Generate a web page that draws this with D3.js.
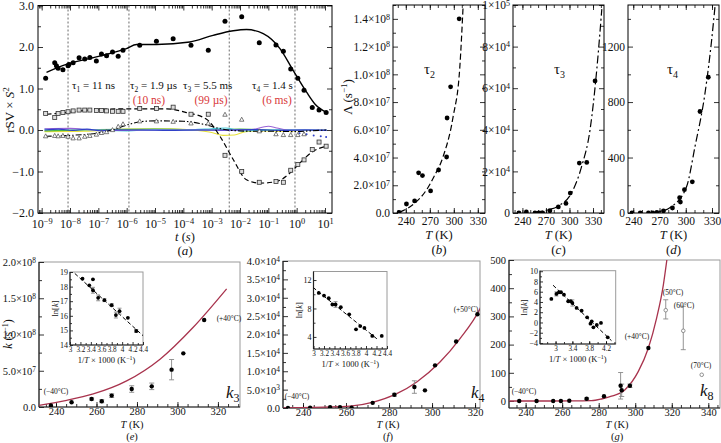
<!DOCTYPE html>
<html><head><meta charset="utf-8">
<script src="https://cdn.jsdelivr.net/npm/d3@7"></script>
<style>body{margin:0;background:#fff}svg{display:block}</style>
</head><body><svg id="c" width="721" height="443"></svg>
<script>
// ---------------- DATA ----------------
// panel (a): log10(t) positions and rSV×S² values
const aCircLog = [-8.86,-8.54,-8.48,-8.42,-8.25,-8.07,-8.04,-7.89,-7.68,-7.48,-7.30,-7.07,-6.89,-6.71,-6.50,-6.30,-6.13,-5.54,-4.95,-4.36,-3.73,-3.12,-2.53,-1.94,-1.32,-0.73,-0.47,-0.21,0.04,0.26,0.55,0.79,1.04];
const aCircVal = [1.25,1.62,1.55,1.49,1.45,1.55,1.58,1.62,1.74,1.71,1.75,1.66,1.83,1.79,1.88,1.78,1.92,2.04,2.14,2.20,2.04,1.92,2.62,2.73,2.10,2.05,1.90,1.47,1.25,0.96,0.54,0.48,0.42];
const aFitLog = [-8.83,-8.13,-6.95,-6.01,-5.65,-4.95,-3.77,-2.95,-2.24,-1.77,-1.18,-0.59,-0.12,0.35,0.65,1.06];
const aFitVal = [1.39,1.58,1.78,1.96,2.06,2.06,2.12,2.28,2.39,2.42,2.32,1.96,1.43,0.91,0.62,0.42];
const aSqLog = [-8.86,-8.54,-8.42,-8.25,-8.07,-7.89,-7.68,-7.48,-7.30,-7.07,-6.89,-6.71,-6.50,-6.30,-6.13,-5.54,-4.95,-4.36,-3.73,-3.12,-2.53,-1.94,-1.32,-0.73,-0.47,-0.21,0.04,0.26,0.55,0.79,1.04];
const aSqVal = [0.40,0.30,0.40,0.42,0.44,0.46,0.48,0.48,0.48,0.47,0.47,0.46,0.45,0.45,0.45,0.52,0.52,0.55,0.38,0.38,-0.61,-1.00,-1.26,-1.24,-1.26,-0.97,-0.83,-0.72,-0.47,-0.29,-0.39];
const aDashLog = [-8.83,-8.13,-6.95,-5.77,-4.59,-3.89,-3.18,-2.71,-2.24,-1.77,-1.30,-0.71,-0.24,0.12,0.59,1.06];
const aDashVal = [0.38,0.42,0.50,0.51,0.51,0.42,0.26,-0.15,-0.71,-1.20,-1.28,-1.24,-1.04,-0.79,-0.51,-0.39];
const aTriLog = [-8.86,-8.54,-8.42,-8.25,-8.07,-7.89,-7.68,-7.48,-7.30,-7.07,-6.89,-6.71,-6.50,-6.30,-6.13,-5.54,-4.95,-4.36,-3.73,-3.12,-2.53,-1.94,-1.32,-0.73,-0.47,-0.21,0.04,0.26];
const aTriVal = [-0.15,-0.14,-0.15,-0.14,-0.16,-0.20,-0.20,-0.16,-0.14,-0.11,-0.07,-0.05,0.00,0.08,0.14,0.21,0.21,0.20,0.16,0.16,0.37,0.25,-0.03,-0.10,-0.12,-0.12,-0.12,-0.10];
const aDDLog = [-8.86,-8.0,-7.0,-6.5,-6.0,-5.5,-5.0,-4.0,-3.3,-2.8,-2.3,-1.5,-0.8,0.0,0.5,1.06];
const aDDVal = [-0.15,-0.13,-0.07,0.00,0.12,0.20,0.22,0.21,0.14,0.05,-0.01,-0.03,-0.03,-0.04,-0.02,0.00];
const aYellowLog = [-8.9,-7.5,-6.0,-4.5,-3.5,-3.0,-2.6,-2.2,-1.8,-1.2,-0.5,0.3,1.06];
const aYellowVal = [-0.04,-0.03,0.02,0.03,-0.01,-0.06,-0.13,-0.12,-0.04,-0.02,-0.03,-0.01,-0.01];
const aCyanLog = [-8.9,-8.0,-7.0,-6.0,-5.0,-4.0,-3.0,-2.5,-2.0,-1.0,0.0,1.06];
const aCyanVal = [0.02,0.03,0.00,-0.02,0.01,0.00,0.03,0.05,-0.02,0.00,0.01,0.00];
const aPurpleLog = [-8.9,-8.0,-7.2,-6.5,-5.0,-3.5,-2.5,-1.6,-1.0,-0.7,-0.3,0.3,1.06];
const aPurpleVal = [0.03,0.04,0.00,-0.01,0.00,0.00,-0.01,0.01,0.09,0.05,0.00,0.00,0.00];
const aBlueLog = [-8.9,-8.4,-7.9,-7.4,-6.9,-6.4,-5.5,-4.5,-3.5,-2.5,-1.5,-0.5,0.3,1.06];
const aBlueVal = [0.00,0.02,-0.01,0.02,-0.02,0.00,0.00,-0.01,0.00,0.00,0.01,-0.01,0.00,-0.01];
const aGreenLog = [-8.9,-7.0,-5.0,-3.0,-2.0,-1.0,0.0,1.06];
const aGreenVal = [-0.02,0.01,0.02,0.00,0.02,0.00,-0.01,0.00];
const aCrossLog = [0.10,0.35,0.60,0.85,1.04];
const aCrossVal = [-0.08,-0.10,-0.13,-0.15,-0.17];
const aVLog = [-8.07,-5.92,-2.38,-0.06];
const aXTicks = [-9,-8,-7,-6,-5,-4,-3,-2,-1,0,1];
const aYTicks = [-2,-1,0,1,2,3];
const aYLabels = ["\u22122.0","\u22121.0","0.0","1.0","2.0","3.0"];
const aTauText = [["\u03c4","1"," = 11 ns"],["\u03c4","2"," = 1.9 \u00b5s"],["\u03c4","3"," = 5.5 ms"],["\u03c4","4"," = 1.4 s"]];
const aRedText = ["(10 ns)","(99 \u00b5s)","(6 ms)"];

// panels (b)(c)(d): T (K) vs Λ (s⁻¹)
const bT = [231.6,240.8,251,256,260.8,271,281,291,291.6,296,306.7];
const bL = [0.5e6,6.5e6,8.7e6,29e6,27e6,15.9e6,31e6,40.4e6,68.5e6,91e6,140e6];
const bFitT = [233,236.7,251,265.8,275,286.6,299,307.5,311.7];
const bFitL = [0.8e6,1.7e6,7e6,16.6e6,26e6,40.6e6,69e6,105e6,150e6];
const cT = [235.5,245,256,261,265.8,275,285.8,295.5,301,312.5,322,332.6];
const cL = [0,500,0,0,0,1100,2900,4600,9600,24000,24300,63500];
const cFitT = [256,270,285.8,302.8,315.6,326.2,334.8,341.2];
const cFitL = [300,1300,3400,9800,22500,40000,69000,98000];
const dT = [238.5,248,257.4,262.4,267,274.5,284.8,293,293.9,298.5,307.5,316.3,325.8];
const dL = [0,0,0,0,5,16,36,110,79,168,225,732,979];
const dFitT = [257,270,284,301,310.6,322,329.6,333.4];
const dFitL = [0,10,47,191,480,864,1248,1487];
const bcdXTicks = [240,270,300,330];
const bYTicks = [0,2e7,4e7,6e7,8e7,1e8,1.2e8,1.4e8];
const bYLabels = ["0.0","2.0\u00d710^7","4.0\u00d710^7","6.0\u00d710^7","8.0\u00d710^7","1.0\u00d710^8","1.2\u00d710^8","1.4\u00d710^8"];
const cYTicks = [0,2e4,4e4,6e4,8e4,1e5];
const cYLabels = ["0","2\u00d710^4","4\u00d710^4","6\u00d710^4","8\u00d710^4","1\u00d710^5"];
const dYTicks = [0,400,800,1200];
const dYLabels = ["0","400","800","1200"];

// panel (e): k3
const eT = [237.5,247.7,257.6,262.6,267.5,277.4,287.3,297.1,302.9,313.2];
const eK = [2e6,6.5e6,11e6,7.9e6,15.7e6,24.8e6,28.5e6,51.5e6,74e6,120e6];
const eErr = [0,0,1.5e6,2e6,2.5e6,4.5e6,4.5e6,14e6,0,0];
const eFitT = [231.6,245.3,258.4,274.9,291.4,307.8,324.3];
const eFitK = [2.3e6,9.2e6,18e6,36e6,66e6,110e6,163e6];
const eInvT = [3.24,3.37,3.44,3.44,3.54,3.66,3.80,3.88,3.95,4.11,4.27];
const eLnK = [18.54,18.09,18.5,17.75,17.23,17.07,16.73,16.05,16.32,15.86,14.96];
const eLnErr = [0,0,0,0.2,0.2,0.1,0.1,0.2,0.2,0,0.1];
const eLnFitX = [3.0,4.4];
const eLnFitY = [19.2,14.64];
const eYTicks = [0,5e7,1e8,1.5e8,2e8];
const eYLabels = ["0.0","5.0\u00d710^7","1.0\u00d710^8","1.5\u00d710^8","2.0\u00d710^8"];

// panel (f): k4
const fT = [233,243.3,252.6,257.2,262.6,272.4,282.5,291.8,296.7,301.4,311.2,321.1];
const fK = [0,100,200,200,100,1400,3600,5700,4800,11600,18100,25500];
const fErr = [0,0,0,0,0,0,400,1700,0,0,0,0];
const fFitT = [231,238.6,250,261.9,272.7,283.6,292.9,303.7,313,322.3,330];
const fFitK = [50,100,250,500,1600,3900,7100,12500,18900,27000,38000];
const fInvT = [3.10,3.20,3.29,3.36,3.42,3.52,3.68,3.81,3.89,3.97,4.12,4.30];
const fLnK = [10.18,9.81,9.44,8.56,8.56,8.18,7.17,5.07,5.53,5.26,4.14,4.14];
const fLnErr = [0,0,0,0,0.4,0,0,0,0,0,0,0];
const fLnFitX = [2.99,4.24];
const fLnFitY = [10.97,3.54];
const fYTicks = [0,5e3,1e4,1.5e4,2e4,2.5e4,3e4,3.5e4,4e4];
const fYLabels = ["0.0","5.0\u00d710^3","1.0\u00d710^4","1.5\u00d710^4","2.0\u00d710^4","2.5\u00d710^4","3.0\u00d710^4","3.5\u00d710^4","4.0\u00d710^4"];

// panel (g): k8
const gT = [236.5,246,255.1,259.3,263.9,273.4,282.9,292,292.6,297.1,307.2];
const gK = [0,0,0,0,1,8,17,54,38,54,188];
const gErr = [0,0,0,0,0,3,0,47,22,6,0];
const gOpenT = [316.7,326.3,336.4];
const gOpenK = [322,249,93];
const gOpenLo = [291,182,93];
const gOpenHi = [359,336,93];
const gFitT = [231,239.6,265,276,282,287,294.4,301.7,307.2,311.7,315.4,317.2,318.5];
const gFitK = [0,0,0.3,1,8,17,40,105,188,294,412,495,560];
const gInvT = [2.90,3.02,3.08,3.13,3.20,3.30,3.36,3.40,3.50,3.62,3.75,3.83,3.86,3.90,3.98,4.08,4.24];
const gLnK = [4.59,5.57,5.9,5.9,5.43,4.14,4.14,3.8,2.83,2.3,1.0,-0.23,0.23,-0.94,-0.49,-0.09,-2.9];
const gLnErr = [0,0.4,0,0,0,0,0,0.6,0,0,0,0,0,0,0,0,0];
const gLnFitX = [2.94,4.33];
const gLnFitY = [7.27,-3.55];
const gYTicks = [0,100,200,300,400,500];
const gYLabels = ["0","100","200","300","400","500"];
const gOpenText = ["(50\u00b0C)","(60\u00b0C)","(70\u00b0C)"];

// ---------------- DRAWING ----------------
const FONT = "'Liberation Serif','Times New Roman',serif";
const RED = "#a8334d";
const svg = d3.select("#c");
svg.append("rect").attr("width",721).attr("height",443).attr("fill","#fff");

function rich(sel){
  sel.each(function(){
    const t=d3.select(this); const s=t.text();
    if(!s.includes("^")) return;
    const [b,e]=s.split("^"); t.text(null);
    t.append("tspan").text(b);
    t.append("tspan").attr("dy","-0.42em").attr("font-size","0.7em").text(e);
  });
}
function range(a,b,s){const r=[];for(let v=a;v<=b+1e-9;v+=s)r.push(+v.toFixed(6));return r;}

function drawAxes(g,x,y,o){
  const X0=d3.min(x.range()),X1=d3.max(x.range());
  const Yb=d3.max(y.range()),Yt=d3.min(y.range());
  const fs=o.fs||12, tl=o.tl||5, tm=o.tm||3;
  const style=sel=>{sel.attr("font-family",FONT).attr("font-size",fs);sel.select(".domain").remove();sel.selectAll("line").attr("stroke","#000").attr("stroke-width",0.8);sel.selectAll("text").attr("fill","#111");};
  g.append("rect").attr("x",X0).attr("y",Yt).attr("width",X1-X0).attr("height",Yb-Yt)
    .attr("fill","none").attr("stroke",o.frame||"#000").attr("stroke-width",o.fw||1);
  const b=g.append("g").attr("transform",`translate(0,${Yb})`)
    .call(d3.axisBottom(x).tickValues(o.xt).tickSizeInner(-tl).tickSizeOuter(0).tickPadding(o.xpad||4).tickFormat((d,i)=>o.xl?o.xl[i]:d));
  style(b); b.selectAll("text").call(rich);
  if(o.xfs) b.attr("font-size",o.xfs);
  const l=g.append("g").attr("transform",`translate(${X0},0)`)
    .call(d3.axisLeft(y).tickValues(o.yt).tickSizeInner(-tl).tickSizeOuter(0).tickPadding(o.ypad||3).tickFormat((d,i)=>o.yl?o.yl[i]:d));
  style(l); l.selectAll("text").call(rich);
  if(o.xm){const m=g.append("g").attr("transform",`translate(0,${Yb})`).call(d3.axisBottom(x).tickValues(o.xm).tickSizeInner(-tm).tickSizeOuter(0).tickFormat(""));style(m);}
  if(o.ym){const m=g.append("g").attr("transform",`translate(${X0},0)`).call(d3.axisLeft(y).tickValues(o.ym).tickSizeInner(-tm).tickSizeOuter(0).tickFormat(""));style(m);}
  if(o.mirror){
    const t=g.append("g").attr("transform",`translate(0,${Yt})`).call(d3.axisTop(x).tickValues(o.xt).tickSizeInner(-tl).tickSizeOuter(0).tickFormat(""));style(t);
    const r=g.append("g").attr("transform",`translate(${X1},0)`).call(d3.axisRight(y).tickValues(o.yt).tickSizeInner(-tl).tickSizeOuter(0).tickFormat(""));style(r);
    if(o.xm){const m=g.append("g").attr("transform",`translate(0,${Yt})`).call(d3.axisTop(x).tickValues(o.xm).tickSizeInner(-tm).tickSizeOuter(0).tickFormat(""));style(m);}
    if(o.ym){const m=g.append("g").attr("transform",`translate(${X1},0)`).call(d3.axisRight(y).tickValues(o.ym).tickSizeInner(-tm).tickSizeOuter(0).tickFormat(""));style(m);}
  }
  if(o.axisLines){
    g.append("line").attr("x1",X0).attr("x2",X0).attr("y1",Yt).attr("y2",Yb).attr("stroke","#222").attr("stroke-width",1.2);
    g.append("line").attr("x1",X0).attr("x2",X1).attr("y1",Yb).attr("y2",Yb).attr("stroke","#222").attr("stroke-width",1.2);
  }
}
function txt(g,x,y,s,o={}){
  const t=g.append("text").attr("x",x).attr("y",y).attr("font-family",FONT).attr("font-size",o.fs||12)
    .attr("text-anchor",o.anchor||"middle").attr("fill",o.fill||"#111");
  if(o.italic) t.attr("font-style","italic");
  if(o.rot) t.attr("transform",`rotate(${o.rot},${x},${y})`);
  if(s) t.text(s);
  return t;
}
let clipId=0;
function clipFor(g,x,y){
  const id="clip"+(clipId++);
  const X0=d3.min(x.range()),X1=d3.max(x.range()),Yb=d3.max(y.range()),Yt=d3.min(y.range());
  svg.append("clipPath").attr("id",id).append("rect").attr("x",X0).attr("y",Yt).attr("width",X1-X0).attr("height",Yb-Yt);
  return g.append("g").attr("clip-path",`url(#${id})`);
}
function pathXY(g,x,y,xs,ys,o){
  const line=d3.line().x(d=>x(d[0])).y(d=>y(d[1])).curve(o.curve||d3.curveMonotoneX);
  g.append("path").attr("d",line(xs.map((v,i)=>[v,ys[i]]))).attr("fill","none")
    .attr("stroke",o.stroke||"#000").attr("stroke-width",o.sw||1.2).attr("stroke-dasharray",o.dash||null);
}
function dots(g,x,y,xs,ys,r,o={}){
  g.selectAll(null).data(xs.map((v,i)=>[v,ys[i]])).enter().append("circle")
    .attr("cx",d=>x(d[0])).attr("cy",d=>y(d[1])).attr("r",r)
    .attr("fill",o.fill||"#000").attr("stroke",o.stroke||"none").attr("stroke-width",o.sw||0.8);
}
function errs(g,x,y,xs,lo,hi,o={}){
  const w=o.cap||2.5;
  xs.forEach((v,i)=>{
    if(lo[i]==null||hi[i]==null||lo[i]===hi[i]) return;
    const cx=x(v),y1=y(lo[i]),y2=y(hi[i]);
    const c=o.stroke||"#888";
    g.append("line").attr("x1",cx).attr("x2",cx).attr("y1",y1).attr("y2",y2).attr("stroke",c).attr("stroke-width",0.9);
    g.append("line").attr("x1",cx-w).attr("x2",cx+w).attr("y1",y1).attr("y2",y1).attr("stroke",c).attr("stroke-width",0.9);
    g.append("line").attr("x1",cx-w).attr("x2",cx+w).attr("y1",y2).attr("y2",y2).attr("stroke",c).attr("stroke-width",0.9);
  });
}

// ===== Panel (a) =====
{
  const g=svg.append("g");
  const x=d3.scaleLog().domain([Math.pow(10,-9.13),Math.pow(10,1.247)]).range([38,332]);
  const y=d3.scaleLinear().domain([-2,3]).range([213,5.5]);
  const minor=[];
  for(let e=-10;e<=1;e++) for(let k=2;k<=9;k++){const v=k*Math.pow(10,e); if(v>=x.domain()[0]&&v<=x.domain()[1]) minor.push(v);}
  drawAxes(g,x,y,{xt:aXTicks.map(e=>Math.pow(10,e)),xl:aXTicks.map(e=>"10^"+(e<0?"\u2212"+(-e):e)),
    yt:aYTicks,yl:aYLabels,xm:minor,ym:range(-1.5,2.5,1),mirror:true,fs:12,xpad:6,ypad:4});
  const c=clipFor(g,x,y);
  const X=l=>Math.pow(10,l);
  aVLog.forEach(l=>c.append("line").attr("x1",x(X(l))).attr("x2",x(X(l))).attr("y1",5.5).attr("y2",213)
    .attr("stroke","#444").attr("stroke-width",0.8).attr("stroke-dasharray","2,2"));
  const colored=[[aYellowLog,aYellowVal,"#e8e23a"],[aGreenLog,aGreenVal,"#49b847"],[aCyanLog,aCyanVal,"#48c9d8"],[aPurpleLog,aPurpleVal,"#9a63d6"],[aBlueLog,aBlueVal,"#3040c8"]];
  colored.forEach(([ls,vs,col])=>pathXY(c,x,y,ls.map(X),vs,{stroke:col,sw:1.1}));
  c.selectAll(null).data(aCrossLog.map((l,i)=>[X(l),aCrossVal[i]])).enter().append("circle")
    .attr("cx",d=>x(d[0])).attr("cy",d=>y(d[1])).attr("r",1).attr("fill","#3040c8");
  pathXY(c,x,y,aDashLog.map(X),aDashVal,{dash:"5,3",sw:1.2});
  pathXY(c,x,y,aDDLog.map(X),aDDVal,{dash:"6,2,1.5,2,1.5,2",sw:1.1});
  pathXY(c,x,y,aFitLog.map(X),aFitVal,{sw:1.4});
  c.selectAll(null).data(aSqLog.map((l,i)=>[X(l),aSqVal[i]])).enter().append("rect")
    .attr("x",d=>x(d[0])-2).attr("y",d=>y(d[1])-2).attr("width",4).attr("height",4)
    .attr("fill","#ddd").attr("stroke","#333").attr("stroke-width",0.8);
  c.selectAll(null).data(aTriLog.map((l,i)=>[X(l),aTriVal[i]])).enter().append("path")
    .attr("d",d=>`M${x(d[0])},${y(d[1])-2.4}l2.2,4h-4.4z`).attr("fill","#fff").attr("stroke","#444").attr("stroke-width",0.7);
  dots(c,x,y,aCircLog.map(X),aCircVal,2.5);
  const tauX=[72,130,183,252];
  aTauText.forEach((p,i)=>{const t=txt(g,tauX[i],89,"",{anchor:"start",fs:11});
    t.append("tspan").text(p[0]); t.append("tspan").attr("dy",3).attr("font-size",7.5).text(p[1]); t.append("tspan").attr("dy",-3).text(p[2]);});
  const redX=[149,211,277];
  aRedText.forEach((s,i)=>txt(g,redX[i],104,s,{fill:"#d9383a",fs:11.5}));
  txt(g,14,110,"",{rot:-90,fs:13}).call(t=>{t.append("tspan").text("rSV \u00d7 ");t.append("tspan").attr("font-style","italic").text("S");t.append("tspan").attr("dy",-5).attr("font-size",9).text("2");});
  txt(g,185,241,"",{fs:12.5}).call(t=>{t.append("tspan").attr("font-style","italic").text("t");t.append("tspan").text(" (");t.append("tspan").attr("font-style","italic").text("s");t.append("tspan").text(")");});
  txt(g,185,255,"",{fs:13}).call(t=>{t.append("tspan").text("(");t.append("tspan").attr("font-style","italic").text("a");t.append("tspan").text(")");});
}

// ===== Panels (b)(c)(d) =====
function tPanel(o){
  const g=svg.append("g");
  const x=d3.scaleLinear().domain(o.xd).range(o.xr);
  const y=d3.scaleLinear().domain(o.yd).range([213,5]);
  drawAxes(g,x,y,{xt:bcdXTicks,xl:bcdXTicks.map(String),yt:o.yt,yl:o.yl,xm:range(230,340,10).filter(v=>v>o.xd[0]&&v<o.xd[1]),ym:o.ym,mirror:true,fs:11.5,xpad:4});
  const c=clipFor(g,x,y);
  pathXY(c,x,y,o.ft,o.fl,{dash:o.dash,sw:1.2});
  dots(c,x,y,o.T,o.L,2.4);
  const cx=(o.xr[0]+o.xr[1])/2;
  txt(g,o.tauX,74,"",{anchor:"start",fs:15}).call(t=>{t.append("tspan").text("\u03c4");t.append("tspan").attr("dy",4).attr("font-size",10).text(o.tauSub);});
  txt(g,cx,239,"",{fs:12.5}).call(t=>{t.append("tspan").attr("font-style","italic").text("T");t.append("tspan").text(" (K)");});
  txt(g,cx,254,"",{fs:13}).call(t=>{t.append("tspan").text("(");t.append("tspan").attr("font-style","italic").text(o.tag);t.append("tspan").text(")");});
}
tPanel({xd:[224,339],xr:[393,485],yd:[0,1.5e8],yt:bYTicks,yl:bYLabels,ym:range(1e7,1.5e8,2e7),T:bT,L:bL,ft:bFitT,fl:bFitL,dash:"6,3",tauX:424,tauSub:"2",tag:"b"});
tPanel({xd:[228,344],xr:[513,604],yd:[0,1e5],yt:cYTicks,yl:cYLabels,ym:range(1e4,9e4,2e4),T:cT,L:cL,ft:cFitT,fl:cFitL,dash:"8,3,2,3",tauX:554,tauSub:"3",tag:"c"});
tPanel({xd:[234,338],xr:[628,719],yd:[0,1500],yt:dYTicks,yl:dYLabels,ym:range(200,1400,400),T:dT,L:dL,ft:dFitT,fl:dFitL,dash:"8,3,2,3",tauX:667,tauSub:"4",tag:"d"});
txt(svg,352,97,"",{rot:-90,fs:13}).call(t=>{t.append("tspan").text("\u039b (s");t.append("tspan").attr("dy",-5).attr("font-size",9).text("\u22121");t.append("tspan").attr("dy",5).text(")");});

// ===== Bottom panels =====
function kPanel(o){
  const g=svg.append("g");
  const x=d3.scaleLinear().domain(o.xd).range(o.xr);
  const y=d3.scaleLinear().domain(o.yd).range(o.yr);
  drawAxes(g,x,y,{xt:o.xt,xl:o.xt.map(String),yt:o.yt,yl:o.yl,xm:o.xm,ym:o.ym,frame:"#9a9a9a",axisLines:true,fs:10.5,xpad:1});
  const c=clipFor(g,x,y);
  pathXY(c,x,y,o.ft,o.fk,{stroke:RED,sw:1.3});
  errs(c,x,y,o.T,o.T.map((v,i)=>o.K[i]-o.E[i]),o.T.map((v,i)=>o.K[i]+o.E[i]));
  dots(c,x,y,o.T,o.K,2.2);
  if(o.extra) o.extra(g,c,x,y);
  // inset
  const ix=d3.scaleLinear().domain(o.ixd).range(o.ixr);
  const iy=d3.scaleLinear().domain(o.iyd).range(o.iyr);
  g.append("rect").attr("x",o.ixr[0]).attr("y",o.iyr[1]).attr("width",o.ixr[1]-o.ixr[0]).attr("height",o.iyr[0]-o.iyr[1]).attr("fill","#fff");
  drawAxes(g,ix,iy,{xt:o.ixt,xl:o.ixl,yt:o.iyt,yl:o.iyt.map(v=>v<0?"\u2212"+(-v):String(v)),xm:o.ixm,ym:o.iym,frame:"#9a9a9a",axisLines:true,fs:8,xfs:7.2,tl:3,tm:2,xpad:2,ypad:2});
  const ic=clipFor(g,ix,iy);
  pathXY(ic,ix,iy,o.lfx,o.lfy,{dash:"4,2.5",sw:1,curve:d3.curveLinear});
  errs(ic,ix,iy,o.iX,o.iY.map((v,i)=>v-o.iE[i]),o.iY.map((v,i)=>v+o.iE[i]),{cap:2});
  dots(ic,ix,iy,o.iX,o.iY,1.9);
  const icx=(o.ixr[0]+o.ixr[1])/2;
  txt(g,o.lnX,(o.iyr[0]+o.iyr[1])/2,"",{rot:-90,fs:8.5}).call(t=>{t.append("tspan").text("ln[");t.append("tspan").attr("font-style","italic").text("k");t.append("tspan").text("]");});
  txt(g,icx,o.iyr[0]+18,"",{fs:8.5}).call(t=>{t.append("tspan").text("1/");t.append("tspan").attr("font-style","italic").text("T");t.append("tspan").text(" \u00d7 1000 (K");t.append("tspan").attr("dy",-3).attr("font-size",6).text("\u22121");t.append("tspan").attr("dy",3).text(")");});
  // labels
  txt(g,o.tkX,428,"",{fs:10.5}).call(t=>{t.append("tspan").attr("font-style","italic").text("T");t.append("tspan").text(" (K)");});
  txt(g,o.tkX,440.3,"",{fs:10.5}).call(t=>{t.append("tspan").text("(");t.append("tspan").attr("font-style","italic").text(o.tag);t.append("tspan").text(")");});
  txt(g,o.kX,o.kY,"",{fs:17,anchor:"start"}).call(t=>{t.append("tspan").attr("font-style","italic").text("k");t.append("tspan").attr("dy",4).attr("font-size",12).text(o.kSub);});
  o.notes.forEach(n=>txt(g,n[0],n[1],n[2],{fs:7.5}));
}
kPanel({xd:[231.6,330.9],xr:[39,240],yd:[0,2e8],yr:[407,262],xt:[240,260,280,300,320],xm:range(235,330,5),yt:eYTicks,yl:eYLabels,ym:range(2.5e7,1.75e8,5e7),
  T:eT,K:eK,E:eErr,ft:eFitT,fk:eFitK,
  ixd:[3,4.4],ixr:[70,143],iyd:[14,19],iyr:[345,272],ixt:[3,3.2,3.4,3.6,3.8,4,4.2,4.4],ixl:["3","3.2","3.4","3.6","3.8","4","4.2","4.4"],ixm:range(3.1,4.3,0.2),iyt:[14,15,16,17,18,19],iym:range(14.5,18.5,1),
  iX:eInvT,iY:eLnK,iE:eLnErr,lfx:eLnFitX,lfy:eLnFitY,lnX:58,
  tkX:132,tag:"e",kX:226,kY:398,kSub:"3",notes:[[56,394,"(\u221240\u00b0C)"],[229,321,"(+40\u00b0C)"]]});
kPanel({xd:[230.7,322.3],xr:[283,480],yd:[0,4e4],yr:[408,261],xt:[240,260,280,300,320],xm:range(235,320,5),yt:fYTicks,yl:fYLabels,ym:range(2.5e3,3.75e4,5e3),
  T:fT,K:fK,E:fErr,ft:fFitT,fk:fFitK,
  ixd:[3,4.4],ixr:[313.5,387],iyd:[2.3,13.2],iyr:[349,271.5],ixt:[3,3.2,3.4,3.6,3.8,4,4.2,4.4],ixl:["3","3.2","3.4","3.6","3.8","4","4.2","4.4"],ixm:range(3.1,4.3,0.2),iyt:[4,8,12],iym:[6,10],
  iX:fInvT,iY:fLnK,iE:fLnErr,lfx:fLnFitX,lfy:fLnFitY,lnX:302,
  tkX:388,tag:"f",kX:471,kY:398,kSub:"4",notes:[[297,399,"(\u221240\u00b0C)"],[466,312,"(+50\u00b0C)"]]});
kPanel({xd:[230.9,346.4],xr:[509,720],yd:[-24.8,500],yr:[408,260],xt:[240,260,280,300,320,340],xm:range(235,345,5),yt:gYTicks,yl:gYLabels,ym:range(50,450,100),
  T:gT,K:gK,E:gErr,ft:gFitT,fk:gFitK,
  extra:(g,c,x,y)=>{
    errs(c,x,y,gOpenT,gOpenLo,gOpenHi);
    dots(c,x,y,gOpenT,gOpenK,1.8,{fill:"#fff",stroke:"#777"});
    const pos=[[673,295],[684,308],[701,368]];
    gOpenText.forEach((s,i)=>txt(g,pos[i][0],pos[i][1],s,{fs:7.5}));
  },
  ixd:[2.63,4.43],ixr:[540,615.7],iyd:[-4.2,10.1],iyr:[344,270.7],ixt:[3,3.4,3.8,4.2],ixl:["3","3.4","3.8","4.2"],ixm:range(2.8,4.4,0.2),iyt:[-4,-2,0,2,4,6,8,10],iym:range(-3,9,2),
  iX:gInvT,iY:gLnK,iE:gLnErr,lfx:gLnFitX,lfy:gLnFitY,lnX:527,
  tkX:617,tag:"g",kX:700,kY:396,kSub:"8",notes:[[524,394,"(\u221240\u00b0C)"],[637,339,"(+40\u00b0C)"]]});
txt(svg,12,334,"",{rot:-90,fs:12}).call(t=>{t.append("tspan").attr("font-style","italic").text("k");t.append("tspan").text(" (s");t.append("tspan").attr("dy",-4).attr("font-size",8).text("\u22121");t.append("tspan").attr("dy",4).text(")");});
</script></body></html>
